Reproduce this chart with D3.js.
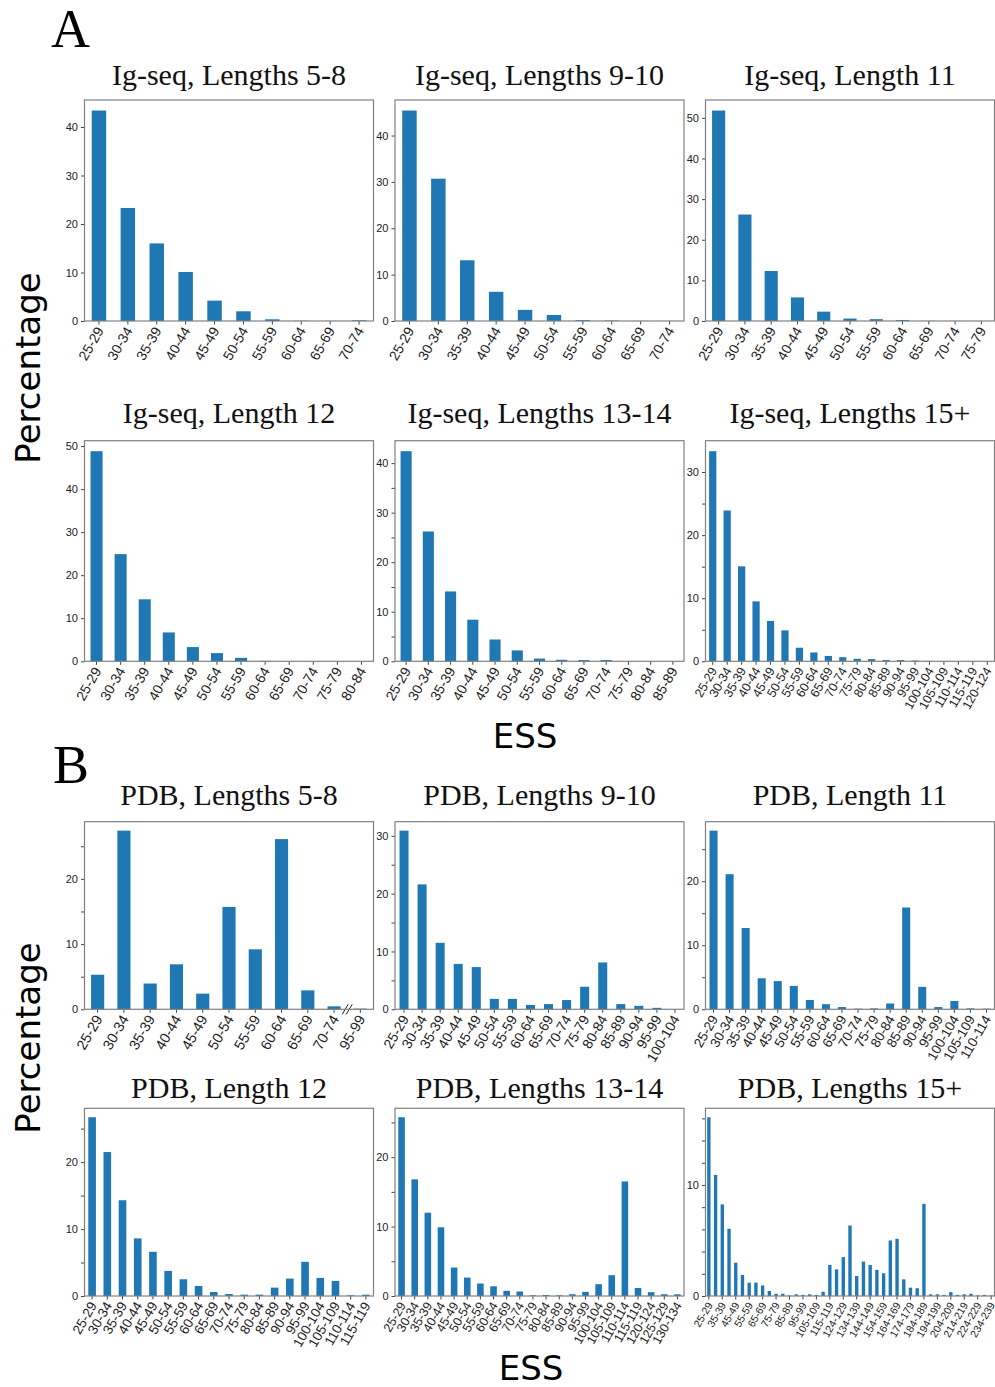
<!DOCTYPE html>
<html>
<head>
<meta charset="utf-8">
<script src="https://cdn.jsdelivr.net/npm/d3@7"></script>
<style>
  body { margin: 0; background: #fff; }
  svg { display: block; font-family: "DejaVu Sans", sans-serif; }
  .axis path { display: none; }
  .axis line { stroke: #444; }
  .axis text { fill: #222; }
  .frame { fill: none; stroke: #808080; stroke-width: 1.2; }
  .title { font-family: "Liberation Serif", serif; font-size: 30px; fill: #111; }
  .letter { font-family: "Liberation Serif", serif; font-size: 54px; fill: #000; }
  .big { font-size: 34px; fill: #000; }
</style>
</head>
<body>
<svg id="chart"></svg>
<script>
// ---- Ig-seq (A) ----
const igLabels58 = ["25-29","30-34","35-39","40-44","45-49","50-54","55-59","60-64","65-69","70-74"];
const igValues58 = [43.4, 23.3, 16.0, 10.1, 4.2, 2.0, 0.35, 0.05, 0.02, 0.15];

const igLabels910 = ["25-29","30-34","35-39","40-44","45-49","50-54","55-59","60-64","65-69","70-74"];
const igValues910 = [45.4, 30.7, 13.1, 6.3, 2.4, 1.3, 0.2, 0.1, 0.02, 0.01];

const igLabels11 = ["25-29","30-34","35-39","40-44","45-49","50-54","55-59","60-64","65-69","70-74","75-79"];
const igValues11 = [51.8, 26.2, 12.3, 5.8, 2.3, 0.6, 0.45, 0.25, 0.03, 0.02, 0.01];

const igLabels12 = ["25-29","30-34","35-39","40-44","45-49","50-54","55-59","60-64","65-69","70-74","75-79","80-84"];
const igValues12 = [48.8, 24.9, 14.4, 6.7, 3.3, 1.9, 0.8, 0.1, 0.03, 0.02, 0.01, 0.01];

const igLabels1314 = ["25-29","30-34","35-39","40-44","45-49","50-54","55-59","60-64","65-69","70-74","75-79","80-84","85-89"];
const igValues1314 = [42.4, 26.2, 14.1, 8.4, 4.4, 2.2, 0.55, 0.3, 0.25, 0.25, 0.02, 0.01, 0.01];

const igLabels15 = ["25-29","30-34","35-39","40-44","45-49","50-54","55-59","60-64","65-69","70-74",
  "75-79","80-84","85-89","90-94","95-99","100-104","105-109","110-114","115-119","120-124"];
const igValues15 = [33.3, 23.9, 15.05, 9.5, 6.4, 4.9, 2.15, 1.4, 0.85, 0.65,
  0.4, 0.35, 0.2, 0.2, 0.12, 0.06, 0.04, 0.02, 0.01, 0.01];

// ---- PDB (B) ----
const pdbLabels58 = ["25-29","30-34","35-39","40-44","45-49","50-54","55-59","60-64","65-69","70-74","95-99"];
const pdbValues58 = [5.3, 27.4, 3.95, 6.9, 2.4, 15.7, 9.2, 26.1, 2.9, 0.45, 0.1];

const pdbLabels910 = ["25-29","30-34","35-39","40-44","45-49","50-54","55-59","60-64","65-69","70-74",
  "75-79","80-84","85-89","90-94","95-99","100-104"];
const pdbValues910 = [30.9, 21.6, 11.5, 7.85, 7.3, 1.8, 1.8, 0.75, 0.9, 1.6, 3.9, 8.1, 0.9, 0.6, 0.25, 0.02];

const pdbLabels11 = ["25-29","30-34","35-39","40-44","45-49","50-54","55-59","60-64","65-69","70-74",
  "75-79","80-84","85-89","90-94","95-99","100-104","105-109","110-114"];
const pdbValues11 = [27.9, 21.1, 12.7, 4.85, 4.4, 3.65, 1.45, 0.8, 0.35, 0.1, 0.15, 0.9, 15.9, 3.5, 0.35, 1.3, 0.15, 0.1];

const pdbLabels12 = ["25-29","30-34","35-39","40-44","45-49","50-54","55-59","60-64","65-69","70-74",
  "75-79","80-84","85-89","90-94","95-99","100-104","105-109","110-114","115-119"];
const pdbValues12 = [26.7, 21.5, 14.3, 8.6, 6.6, 3.75, 2.5, 1.5, 0.6, 0.3, 0.2, 0.2, 1.25, 2.6, 5.1, 2.7, 2.25, 0.1, 0.2];

const pdbLabels1314 = ["25-29","30-34","35-39","40-44","45-49","50-54","55-59","60-64","65-69","70-74",
  "75-79","80-84","85-89","90-94","95-99","100-104","105-109","110-114","115-119","120-124","125-129","130-134"];
const pdbValues1314 = [25.75, 16.8, 12.0, 9.9, 4.1, 2.65, 1.8, 1.4, 0.75, 0.65, 0.1, 0.15, 0.1, 0.25, 0.6,
  1.7, 3.0, 16.5, 1.15, 0.55, 0.25, 0.25];

const pdbLabels15 = ["25-29","30-34","35-39","40-44","45-49","50-54","55-59","60-64","65-69","70-74",
  "75-79","80-84","85-89","90-94","95-99","100-104","105-109","110-114","115-119","120-123",
  "124-129","130-133","134-139","140-143","144-149","150-153","154-159","160-163","164-169","170-173",
  "174-179","180-183","184-189","190-193","194-199","200-203","204-209","210-213","214-219","220-223",
  "224-229","230-233","234-239"];
const pdbValues15 = [16.1, 10.9, 8.25, 6.05, 3.0, 1.9, 1.2, 1.2, 0.95, 0.45,
  0.2, 0.2, 0.05, 0.15, 0.1, 0.15, 0.1, 0.38, 2.8, 2.4,
  3.5, 6.35, 1.8, 3.1, 2.8, 2.35, 2.05, 5.0, 5.15, 1.5,
  0.75, 0.7, 8.3, 0.15, 0.15, 0.1, 0.35, 0.1, 0.15, 0.2,
  0.05, 0.1, 0.05];

const titles = [
  "Ig-seq, Lengths 5-8", "Ig-seq, Lengths 9-10", "Ig-seq, Length 11",
  "Ig-seq, Length 12", "Ig-seq, Lengths 13-14", "Ig-seq, Lengths 15+",
  "PDB, Lengths 5-8", "PDB, Lengths 9-10", "PDB, Length 11",
  "PDB, Length 12", "PDB, Lengths 13-14", "PDB, Lengths 15+"
];

const width = 995, height = 1387;
const colX = [84.5, 395, 705.5];
const panelW = 289;
const rows = [
  {top: 100, h: 221, titleY: 85},
  {top: 440.7, h: 220.6, titleY: 423},
  {top: 821.7, h: 187.6, titleY: 805},
  {top: 1108.3, h: 187.7, titleY: 1098}
];

// panel table built from the arrays above
const panels = [
  {labels: igLabels58, values: igValues58, step: 10, fs: 14},
  {labels: igLabels910, values: igValues910, step: 10, fs: 14},
  {labels: igLabels11, values: igValues11, step: 10, fs: 14},
  {labels: igLabels12, values: igValues12, step: 10, fs: 14},
  {labels: igLabels1314, values: igValues1314, step: 5, fs: 14},
  {labels: igLabels15, values: igValues15, step: 5, fs: 12.5},
  {labels: pdbLabels58, values: pdbValues58, step: 5, fs: 14.5, brk: 9},
  {labels: pdbLabels910, values: pdbValues910, step: 5, fs: 14},
  {labels: pdbLabels11, values: pdbValues11, step: 5, fs: 13.5},
  {labels: pdbLabels12, values: pdbValues12, step: 5, fs: 13.5},
  {labels: pdbLabels1314, values: pdbValues1314, step: 5, fs: 12.5},
  {labels: pdbLabels15, values: pdbValues15, step: 2, fs: 10.5, every: 2}
];

const svg = d3.select('#chart').attr('width', width).attr('height', height);

panels.forEach((p, k) => {
  const row = rows[Math.floor(k / 3)];
  const px = colX[k % 3];
  const h = row.h;
  const g = svg.append('g').attr('transform', `translate(${px},${row.top})`);

  const x = d3.scaleBand().domain(p.labels).range([0, panelW])
    .paddingInner(0.5).paddingOuter(0.25);
  const ymax = d3.max(p.values) * 1.05;
  const y = d3.scaleLinear().domain([0, ymax]).range([h, 0]);

  g.selectAll('rect.bar')
    .data(p.values)
    .join('rect')
    .attr('class', 'bar')
    .attr('x', (d, i) => x(p.labels[i]))
    .attr('width', x.bandwidth())
    .attr('y', d => y(d))
    .attr('height', d => h - y(d))
    .attr('fill', '#1f77b4');

  // y axis: ticks every `step`, labels only on multiples of 10
  const yTicks = d3.range(0, ymax, p.step);
  g.append('g').attr('class', 'axis')
    .call(d3.axisLeft(y).tickValues(yTicks).tickSize(3.5).tickPadding(3)
      .tickFormat(d => (Math.round(d) % 10 === 0) ? d : ''))
    .selectAll('text').style('font-size', '11px');

  // x axis with rotated labels
  const xTicks = p.every ? p.labels.filter((d, i) => i % p.every === 0) : p.labels;
  const xg = g.append('g').attr('class', 'axis')
    .attr('transform', `translate(0,${h})`)
    .call(d3.axisBottom(x).tickValues(xTicks).tickSize(3.5));
  xg.selectAll('text')
    .attr('x', 0).attr('y', 0).attr('dy', '0.35em')
    .attr('text-anchor', 'end')
    .attr('transform', 'translate(1,7) rotate(-60)')
    .style('font-size', p.fs + 'px');

  // axis break mark
  if (p.brk !== undefined) {
    const mx = (x(p.labels[p.brk]) + x(p.labels[p.brk + 1]) + x.bandwidth()) / 2;
    [-2, 2].forEach(o => {
      g.append('line')
        .attr('x1', mx + o - 3).attr('y1', h + 5)
        .attr('x2', mx + o + 3).attr('y2', h - 5)
        .attr('stroke', '#222').attr('stroke-width', 1);
    });
  }

  g.append('rect').attr('class', 'frame')
    .attr('width', panelW).attr('height', h);

  svg.append('text').attr('class', 'title')
    .attr('x', px + panelW / 2).attr('y', row.titleY)
    .attr('text-anchor', 'middle')
    .text(titles[k]);
});

// panel letters and shared axis titles
svg.append('text').attr('class', 'letter').attr('x', 51).attr('y', 47).text('A');
svg.append('text').attr('class', 'letter').attr('x', 53).attr('y', 783).text('B');

svg.append('text').attr('class', 'big')
  .attr('transform', 'translate(40,368) rotate(-90)')
  .attr('text-anchor', 'middle').text('Percentage');
svg.append('text').attr('class', 'big')
  .attr('transform', 'translate(40,1038) rotate(-90)')
  .attr('text-anchor', 'middle').text('Percentage');

svg.append('text').attr('class', 'big')
  .attr('x', 525).attr('y', 748).attr('text-anchor', 'middle').text('ESS');
svg.append('text').attr('class', 'big')
  .attr('x', 531).attr('y', 1380).attr('text-anchor', 'middle').text('ESS');
</script>
</body>
</html>
